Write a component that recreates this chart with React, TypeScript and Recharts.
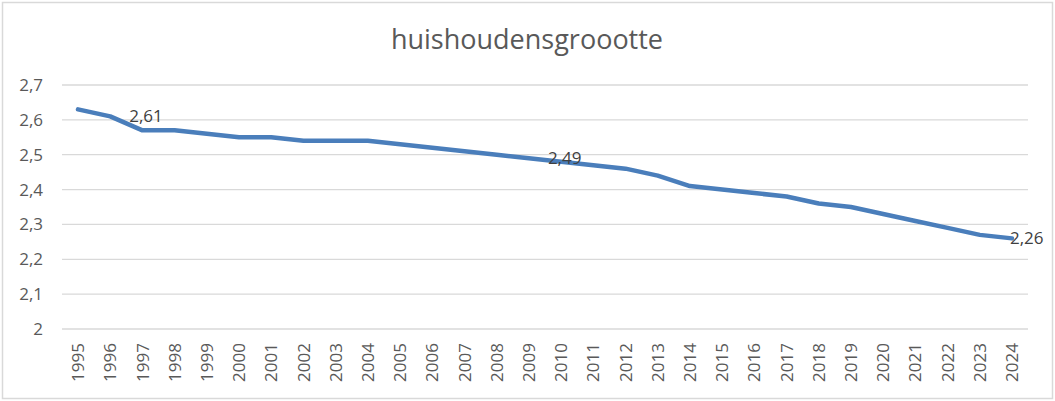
import { LineChart, Line, XAxis, YAxis, CartesianGrid } from "recharts";

const years = [
  "1995", "1996", "1997", "1998", "1999", "2000", "2001", "2002", "2003", "2004",
  "2005", "2006", "2007", "2008", "2009", "2010", "2011", "2012", "2013", "2014",
  "2015", "2016", "2017", "2018", "2019", "2020", "2021", "2022", "2023", "2024",
];
const sizes = [
  2.63, 2.61, 2.57, 2.57, 2.56, 2.55, 2.55, 2.54, 2.54, 2.54,
  2.53, 2.52, 2.51, 2.5, 2.49, 2.48, 2.47, 2.46, 2.44, 2.41,
  2.4, 2.39, 2.38, 2.36, 2.35, 2.33, 2.31, 2.29, 2.27, 2.26,
];
const labelledYears = ["1996", "2009", "2024"];
const yTicks = [2, 2.1, 2.2, 2.3, 2.4, 2.5, 2.6, 2.7];
const title = "huishoudensgroootte";

const data = years.map((year, i) => ({ year, value: sizes[i] }));

const FONT = "'Open Sans', 'Noto Sans', sans-serif";
const fmt = (v: number) => String(v).replace(".", ",");

const YearTick = ({ x, y, payload }: any) => (
  <text
    x={x}
    y={y}
    transform={`rotate(-90, ${x}, ${y})`}
    textAnchor="end"
    dy="0.36em"
    fill="#595959"
    fontSize={17}
    fontFamily={FONT}
  >
    {payload.value}
  </text>
);

const ValueLabel = ({ x, y, index }: any) => {
  const item = data[index];
  if (!item || !labelledYears.includes(item.year)) return null;
  const last = index === data.length - 1;
  return (
    <text
      x={x + (last ? -2 : 19)}
      y={y}
      dy="0.36em"
      fill="#404040"
      fontSize={17}
      fontFamily={FONT}
    >
      {fmt(item.value)}
    </text>
  );
};

export default function App() {
  return (
    <div style={{ position: "absolute", left: 0, top: 0, width: 1055, height: 401, background: "#fff" }}>
      <LineChart
        width={1055}
        height={401}
        data={data}
        margin={{ top: 85, right: 27, bottom: 0, left: 0 }}
      >
        <CartesianGrid vertical={false} stroke="#d9d9d9" strokeWidth={1.3} />
        <XAxis
          dataKey="year"
          interval={0}
          height={72}
          padding={{ left: 16, right: 16 }}
          tickLine={false}
          axisLine={false}
          tickSize={0}
          tickMargin={14}
          tick={<YearTick />}
        />
        <YAxis
          domain={[2, 2.7]}
          ticks={yTicks}
          width={62}
          tickLine={false}
          axisLine={false}
          tickSize={0}
          tickMargin={19}
          tickFormatter={fmt}
          tick={{ fill: "#595959", fontSize: 17, fontFamily: FONT }}
        />
        <Line
          type="linear"
          dataKey="value"
          stroke="#4a7ebb"
          strokeWidth={4.5}
          strokeLinejoin="round"
          strokeLinecap="round"
          dot={false}
          activeDot={false}
          label={<ValueLabel />}
          isAnimationActive={false}
        />
      </LineChart>
      <svg
        width={1055}
        height={401}
        style={{ position: "absolute", left: 0, top: 0, pointerEvents: "none" }}
      >
        <rect x={2.5} y={2.5} width={1050} height={396} fill="none" stroke="#d9d9d9" strokeWidth={1.5} />
        <text x={527} y={49} textAnchor="middle" fill="#595959" fontSize={27} fontFamily={FONT}>
          {title}
        </text>
      </svg>
    </div>
  );
}
